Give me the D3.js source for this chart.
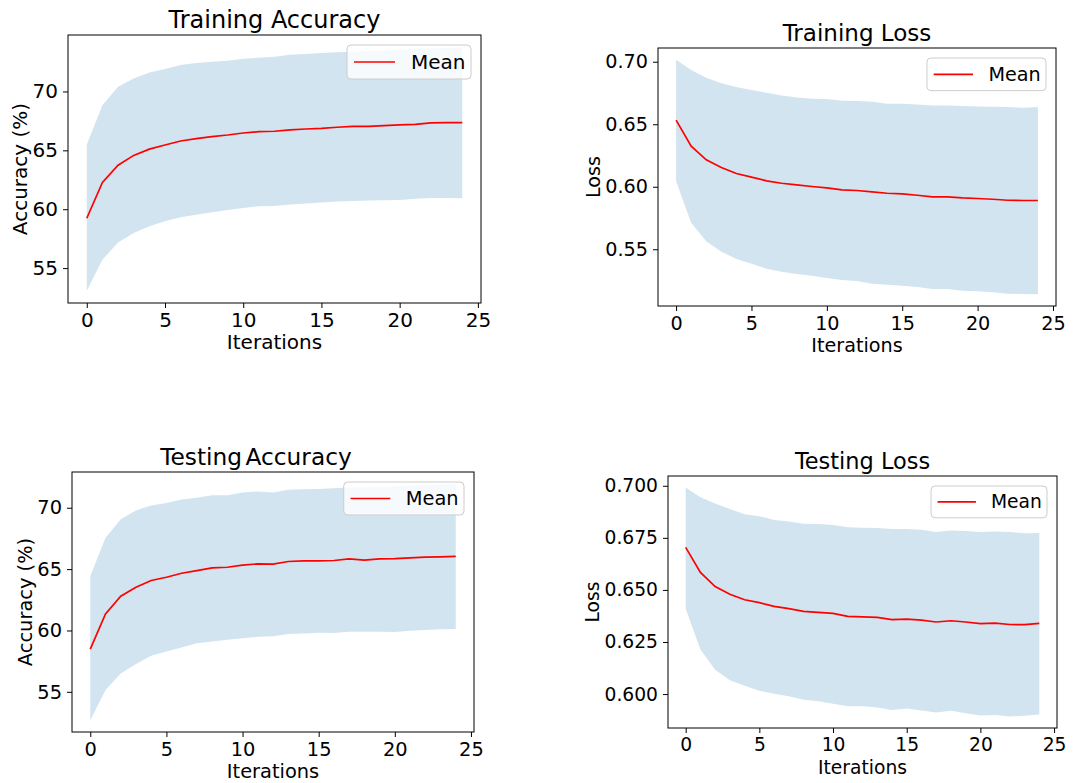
<!DOCTYPE html>
<html>
<head>
<meta charset="utf-8">
<script src="https://d3js.org/d3.v7.min.js"></script>
<style>
  body { margin: 0; background: #fff; }
  text { font-family: "DejaVu Sans", sans-serif; fill: #000; }
</style>
</head>
<body>
<script>
// iterations on the x axis
var iterations = [0,1,2,3,4,5,6,7,8,9,10,11,12,13,14,15,16,17,18,19,20,21,22,23,24];

// training accuracy (%)
var trainAccMean  = [59.23,62.27,63.74,64.57,65.10,65.45,65.79,65.99,66.16,66.30,66.47,66.59,66.62,66.73,66.81,66.87,66.96,67.04,67.04,67.10,67.16,67.21,67.33,67.35,67.35];
var trainAccUpper = [65.48,68.83,70.40,71.10,71.62,71.90,72.24,72.41,72.52,72.60,72.78,72.86,72.95,73.12,73.18,73.26,73.32,73.38,73.43,73.48,73.53,73.58,73.64,73.70,73.76];
var trainAccLower = [53.07,55.71,57.18,57.98,58.55,58.97,59.31,59.54,59.74,59.94,60.11,60.25,60.27,60.39,60.48,60.56,60.65,60.70,60.73,60.76,60.79,60.88,60.96,60.96,60.93];

// training loss
var trainLossMean  = [0.6533,0.6325,0.6215,0.6154,0.6106,0.6077,0.6047,0.6028,0.6015,0.6002,0.5991,0.5975,0.5970,0.5959,0.5948,0.5943,0.5932,0.5919,0.5919,0.5911,0.5906,0.5900,0.5892,0.5890,0.5890];
var trainLossUpper = [0.7016,0.6933,0.6872,0.6827,0.6797,0.6773,0.6752,0.6730,0.6714,0.6704,0.6701,0.6688,0.6685,0.6680,0.6664,0.6664,0.6658,0.6650,0.6650,0.6645,0.6642,0.6640,0.6637,0.6632,0.6637];
var trainLossLower = [0.6044,0.5713,0.5564,0.5481,0.5423,0.5385,0.5345,0.5321,0.5303,0.5289,0.5271,0.5255,0.5246,0.5225,0.5217,0.5209,0.5198,0.5182,0.5182,0.5169,0.5164,0.5156,0.5145,0.5142,0.5140];

// testing accuracy (%)
var testAccMean  = [58.48,61.34,62.79,63.52,64.07,64.34,64.66,64.88,65.10,65.15,65.32,65.43,65.40,65.62,65.67,65.67,65.70,65.83,65.73,65.83,65.86,65.92,65.97,66.00,66.03];
var testAccUpper = [64.42,67.55,69.07,69.78,70.19,70.38,70.68,70.82,71.01,71.01,71.25,71.33,71.25,71.47,71.50,71.52,71.58,71.65,71.68,71.72,71.75,71.80,71.85,71.90,71.95];
var testAccLower = [52.69,55.14,56.50,57.26,57.94,58.29,58.62,58.95,59.11,59.25,59.36,59.49,59.52,59.71,59.76,59.82,59.79,59.90,59.90,59.90,59.87,59.98,60.04,60.09,60.12];

// testing loss
var testLossMean  = [0.6704,0.6584,0.6516,0.6479,0.6453,0.6439,0.6421,0.6410,0.6397,0.6392,0.6387,0.6373,0.6371,0.6368,0.6357,0.6360,0.6355,0.6346,0.6352,0.6346,0.6338,0.6341,0.6334,0.6333,0.6339];
var testLossUpper = [0.6992,0.6945,0.6915,0.6889,0.6863,0.6854,0.6836,0.6828,0.6818,0.6817,0.6812,0.6801,0.6799,0.6797,0.6793,0.6793,0.6789,0.6778,0.6785,0.6783,0.6778,0.6780,0.6778,0.6772,0.6773];
var testLossLower = [0.6410,0.6214,0.6117,0.6066,0.6040,0.6016,0.6002,0.5989,0.5973,0.5965,0.5953,0.5941,0.5941,0.5936,0.5924,0.5931,0.5921,0.5912,0.5920,0.5908,0.5897,0.5900,0.5892,0.5896,0.5902];

var xTicks = [0,5,10,15,20,25];
var accTicks = [55,60,65,70];
var trainLossTicks = [0.55,0.60,0.65,0.70];
var testLossTicks = [0.600,0.625,0.650,0.675,0.700];

var width = 1073, height = 783;

var svg = d3.select("body").append("svg")
    .attr("width", width).attr("height", height);

// matplotlib-like 5% margin around the data
function padded(lo, hi) {
  var m = (hi - lo) * 0.05;
  return [lo - m, hi + m];
}

function drawPanel(p) {
  var w = p.right - p.left, h = p.bottom - p.top;
  var s = p.scale; // the four subplots were pasted at slightly different sizes
  var g = svg.append("g").attr("transform", "translate(" + p.left + "," + p.top + ")");

  var x = d3.scaleLinear().domain(padded(d3.min(iterations), d3.max(iterations))).range([0, w]);
  var y = d3.scaleLinear().domain(padded(d3.min(p.lower), d3.max(p.upper))).range([h, 0]);

  var area = d3.area()
      .x(function(d, i) { return x(iterations[i]); })
      .y0(function(d, i) { return y(p.lower[i]); })
      .y1(function(d, i) { return y(p.upper[i]); });

  g.append("path")
      .datum(p.mean)
      .attr("d", area)
      .attr("fill", "#1f77b4")
      .attr("fill-opacity", 0.2);

  var line = d3.line()
      .x(function(d, i) { return x(iterations[i]); })
      .y(function(d) { return y(d); });

  g.append("path")
      .datum(p.mean)
      .attr("d", line)
      .attr("fill", "none")
      .attr("stroke", "#ff0000")
      .attr("stroke-width", 1.7);

  var xAxis = g.append("g")
      .attr("transform", "translate(0," + h + ")")
      .call(d3.axisBottom(x).tickValues(xTicks).tickSize(5).tickPadding(5).tickFormat(d3.format("d")));
  var yAxis = g.append("g")
      .call(d3.axisLeft(y).tickValues(p.yTicks).tickSize(5).tickPadding(5).tickFormat(p.fmt));

  [xAxis, yAxis].forEach(function(a) {
    a.select(".domain").remove();
    a.selectAll("line").attr("stroke", "#000").attr("stroke-width", 1);
    a.selectAll("text").style("font-size", (20 * s) + "px").attr("font-family", "DejaVu Sans").attr("fill", "#000");
  });

  // spines
  g.append("rect")
      .attr("width", w).attr("height", h)
      .attr("fill", "none").attr("stroke", "#000").attr("stroke-width", 1);

  g.append("text")
      .attr("x", w / 2 + (p.titleDx || 0)).attr("y", -7)
      .attr("text-anchor", "middle")
      .style("font-size", (24 * s) + "px")
      .style("word-spacing", (p.wordSpacing || 0) + "px")
      .text(p.title);

  g.append("text")
      .attr("x", w / 2).attr("y", h + 46)
      .attr("text-anchor", "middle")
      .style("font-size", (20 * s) + "px")
      .text("Iterations");

  g.append("text")
      .attr("transform", "translate(" + (-p.ylabOff) + "," + (h / 2) + ") rotate(-90)")
      .attr("text-anchor", "middle")
      .style("font-size", (20 * s) + "px")
      .text(p.ylabel);

  // legend
  var lw = 124 * s, lh = 34 * s;
  var leg = g.append("g").attr("transform", "translate(" + (w - 10 - lw) + ",10)");
  leg.append("rect")
      .attr("width", lw).attr("height", lh)
      .attr("rx", 4).attr("ry", 4)
      .attr("fill", "#fff").attr("fill-opacity", 0.8)
      .attr("stroke", "#cccccc").attr("stroke-width", 1);
  leg.append("line")
      .attr("x1", 7 * s).attr("x2", 48 * s)
      .attr("y1", lh / 2).attr("y2", lh / 2)
      .attr("stroke", "#ff0000").attr("stroke-width", 1.7);
  leg.append("text")
      .attr("x", 64 * s).attr("y", lh / 2 + 7 * s)
      .style("font-size", (20 * s) + "px")
      .text("Mean");
}

drawPanel({left: 68, right: 481, top: 35, bottom: 303, title: "Training Accuracy", ylabel: "Accuracy (%)", scale: 1,
  mean: trainAccMean, upper: trainAccUpper, lower: trainAccLower, yTicks: accTicks, fmt: d3.format("d"), ylabOff: 41});

drawPanel({left: 658, right: 1056, top: 48, bottom: 306, title: "Training Loss", ylabel: "Loss", scale: 0.96,
  mean: trainLossMean, upper: trainLossUpper, lower: trainLossLower, yTicks: trainLossTicks, fmt: d3.format(".2f"), ylabOff: 58});

drawPanel({left: 72, right: 474, top: 472, bottom: 732, title: "Testing Accuracy", ylabel: "Accuracy (%)", scale: 0.97,
  titleDx: -17, wordSpacing: -4,
  mean: testAccMean, upper: testAccUpper, lower: testAccLower, yTicks: accTicks, fmt: d3.format("d"), ylabOff: 40});

drawPanel({left: 668, right: 1057, top: 476, bottom: 728, title: "Testing Loss", ylabel: "Loss", scale: 0.935,
  mean: testLossMean, upper: testLossUpper, lower: testLossLower, yTicks: testLossTicks, fmt: d3.format(".3f"), ylabOff: 69});
</script>
</body>
</html>
